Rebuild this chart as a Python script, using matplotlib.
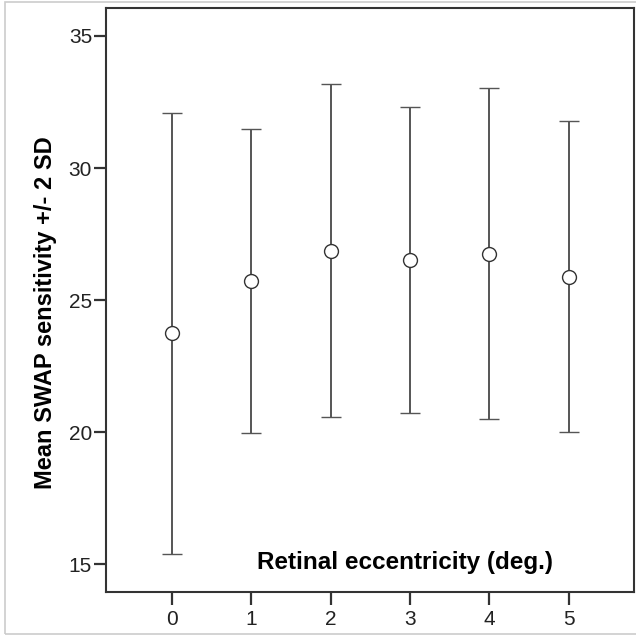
import matplotlib
matplotlib.use("Agg")
import matplotlib.pyplot as plt
from matplotlib.patches import Rectangle

# values
eccentricity = [0, 1, 2, 3, 4, 5]
mean_sens = [23.74, 25.71, 26.86, 26.53, 26.75, 25.88]
upper = [32.10, 31.47, 33.17, 32.32, 33.02, 31.77]
lower = [15.40, 19.98, 20.57, 20.74, 20.50, 20.00]
yticks = [15, 20, 25, 30, 35]

plt.rcParams["font.family"] = ["Liberation Sans", "DejaVu Sans"]

fig = plt.figure(figsize=(6.36, 6.35), dpi=100)
ax = fig.add_axes([106 / 636, 1 - 592 / 635, 528 / 636, 584 / 635])

err_lo = [m - l for m, l in zip(mean_sens, lower)]
err_hi = [u - m for m, u in zip(mean_sens, upper)]
ax.errorbar(eccentricity, mean_sens, yerr=[err_lo, err_hi], fmt="o",
            mfc="white", mec="#333333", mew=1.0, ms=10,
            ecolor="#555555", elinewidth=1.4, capsize=7.5, capthick=1.4)

ax.set_xlim(-0.83, 5.82)
ax.set_ylim(13.95, 36.06)
ax.set_xticks(eccentricity)
ax.set_yticks(yticks)
for s in ax.spines.values():
    s.set_linewidth(1.5)
    s.set_color("#333333")
ax.tick_params(axis="both", direction="out", length=9, width=1.6,
               color="#333333", labelsize=15, labelcolor="#222222")
ax.tick_params(axis="y", pad=1)
ax.tick_params(axis="x", pad=4)
narrow = ["Liberation Sans Narrow", "Liberation Sans", "DejaVu Sans"]
for lab in ax.get_xticklabels() + ax.get_yticklabels():
    lab.set_family(narrow)

ax.set_ylabel("Mean SWAP sensitivity +/- 2 SD", fontsize=17,
              fontweight="bold")
ax.yaxis.set_label_coords(-0.093, 0.479)
ax.text(0.566, 0.05, "Retinal eccentricity (deg.)", transform=ax.transAxes,
        ha="center", va="center", fontsize=17.5, fontweight="bold")

# light gray frame around the whole picture
fig.patches.append(Rectangle((5 / 636, 1 / 635), 640 / 636, 632 / 635,
                             transform=fig.transFigure, fill=False,
                             edgecolor="#cccccc", lw=1.2))

fig.savefig("out.png", dpi=100)
